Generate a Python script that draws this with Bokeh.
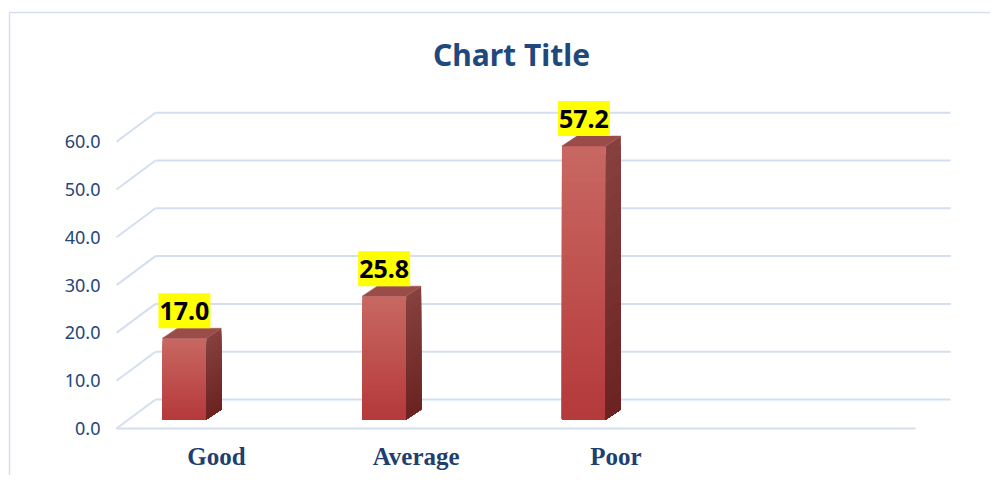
import numpy as np
from bokeh.plotting import figure
from bokeh.models import Range1d, LinearAxis, FixedTicker, Label, PrintfTickFormatter
from bokeh.core.properties import value
from bokeh.embed import file_html
from bokeh.resources import INLINE

# ---------------- data ----------------
categories = ["Good", "Average", "Poor"]
scores = [17.0, 25.8, 57.2]
y_ticks = [0, 10, 20, 30, 40, 50, 60]
title_text = "Chart Title"

# ---------------- layout (picture pixels) ----------------
W, H = 990, 475
PAGE_X0, PAGE_Y0 = 0, 0
N_SLOTS = 4                 # plot area spans 4 category slots
FLOOR_LEFT_PX = 116         # front-left corner of the floor
SLOT_PX = 199.75            # pixel width of one category slot
ZERO_PX = 428               # front floor line (value 0)
UNIT_PX = 4.78              # pixels per value unit

def px_x(d):  # pixel distance -> x data units
    return d / SLOT_PX

def px_y(d):  # pixel distance -> y data units
    return d / UNIT_PX

x_start = (PAGE_X0 - FLOOR_LEFT_PX) / SLOT_PX
x_end = (PAGE_X0 + W - FLOOR_LEFT_PX) / SLOT_PX
y_start = (ZERO_PX - (PAGE_Y0 + H)) / UNIT_PX
y_end = (ZERO_PX - PAGE_Y0) / UNIT_PX

# 3D offsets
WALL_DX, WALL_DY = px_x(39), px_y(29)     # depth of walls
BAR_DX, BAR_DY = px_x(15), px_y(10)       # depth of bars
BAR_OFFSET, BAR_W = 0.23, 0.22            # bar front face within a slot
BAR_BASE = px_y(9)                        # bars stand mid-depth on the floor

GRID_COLOR = "#D3DFEF"
TEXT_BLUE = "#22467A"

p = figure(width=W, height=H,
           x_range=Range1d(x_start, x_end), y_range=Range1d(y_start, y_end),
           output_backend="svg", toolbar_location=None, min_border=0,
           x_axis_location=None, y_axis_location=None)
p.outline_line_color = None
p.background_fill_color = "white"
p.border_fill_color = "white"
p.grid.visible = False

# ---------------- outer chart border ----------------
bx = (9 - FLOOR_LEFT_PX) / SLOT_PX
by = (ZERO_PX - 12) / UNIT_PX
p.multi_line(xs=[[bx, x_end + 1], [bx, bx]], ys=[[by, by], [by, y_start - 1]],
             line_color="#D5E0EE", line_width=1.5)

# ---------------- walls / gridlines ----------------
gxs, gys = [], []
for v in y_ticks:
    gxs.append([WALL_DX, N_SLOTS + WALL_DX * 0.9]); gys.append([v + WALL_DY, v + WALL_DY])
    gxs.append([0, WALL_DX]); gys.append([v, v + WALL_DY])
gxs.append([0, N_SLOTS]); gys.append([0, 0])
p.multi_line(xs=gxs, ys=gys, line_color=GRID_COLOR, line_width=2)

# ---------------- bars (3D, gradient by overlapping strips) ----------------
def hex2rgb(h):
    h = h.lstrip("#")
    return np.array([int(h[i:i + 2], 16) for i in (0, 2, 4)], dtype=float)

def mix(c0, c1, t):
    c = hex2rgb(c0) * (1 - t) + hex2rgb(c1) * t
    return "#%02x%02x%02x" % tuple(int(round(x)) for x in c)

FRONT_TOP, FRONT_BOT = "#C86862", "#B5393A"
SIDE_TOP, SIDE_BOT = "#87413E", "#6B2321"
TOP_FACE = "#9A4C49"
NSTRIP = 30

fl, fr, fb, ft, fc = [], [], [], [], []
sxs, sys_, sc = [], [], []
txs, tys = [], []
for i, val in enumerate(scores):
    xl = i + BAR_OFFSET
    xr = xl + BAR_W
    y0 = BAR_BASE
    y1 = BAR_BASE + val
    edges = np.linspace(y1, y0, NSTRIP + 1)
    for j in range(NSTRIP):
        t = (j + 0.5) / NSTRIP
        top = edges[j]
        fl.append(xl); fr.append(xr); ft.append(top); fb.append(y0)
        fc.append(mix(FRONT_TOP, FRONT_BOT, t))
        sxs.append([xr, xr + BAR_DX, xr + BAR_DX, xr])
        sys_.append([y0, y0 + BAR_DY, top + BAR_DY, top])
        sc.append(mix(SIDE_TOP, SIDE_BOT, t))
    txs.append([xl, xr, xr + BAR_DX, xl + BAR_DX])
    tys.append([y1, y1, y1 + BAR_DY, y1 + BAR_DY])

p.quad(left=fl, right=fr, top=ft, bottom=fb, fill_color=fc, line_color=None)
p.patches(xs=sxs, ys=sys_, fill_color=sc, line_color=None)
p.patches(xs=txs, ys=tys, fill_color=TOP_FACE, line_color=TOP_FACE, line_width=0.5)

# ---------------- data labels ----------------
BOX_W, BOX_H = 52, 35
lx = [i + BAR_OFFSET + BAR_W / 2 for i in range(len(scores))]
ly = [BAR_BASE + v + BAR_DY + px_y(BOX_H / 2) for v in scores]
p.rect(x=lx, y=ly, width=BOX_W, height=BOX_H, width_units="screen", height_units="screen",
       fill_color="#FFFF00", line_color=None)
p.text(x=lx, y=ly, text=["%.1f" % v for v in scores], text_align="center", text_baseline="middle",
       text_font=value("Noto Sans"), text_font_style="bold", text_font_size="25px", text_color="black")

# ---------------- axes ----------------
yaxis = LinearAxis(fixed_location=px_x(-10), ticker=FixedTicker(ticks=y_ticks),
                   formatter=PrintfTickFormatter(format="%.1f"))
yaxis.axis_line_color = None
yaxis.major_tick_line_color = None
yaxis.minor_tick_line_color = None
yaxis.major_tick_out = 0
yaxis.major_tick_in = 0
yaxis.major_label_standoff = 6
yaxis.major_label_text_font = "Noto Sans"
yaxis.major_label_text_font_size = "18px"
yaxis.major_label_text_color = TEXT_BLUE
p.add_layout(yaxis, "left")

xticks = [i + 0.5 for i in range(len(categories))]
xaxis = LinearAxis(fixed_location=0, ticker=FixedTicker(ticks=xticks),
                   major_label_overrides={t: c for t, c in zip(xticks, categories)})
xaxis.axis_line_color = None
xaxis.major_tick_line_color = None
xaxis.minor_tick_line_color = None
xaxis.major_tick_out = 0
xaxis.major_tick_in = 0
xaxis.major_label_standoff = 14
xaxis.major_label_text_font = "Liberation Serif"
xaxis.major_label_text_font_style = "bold"
xaxis.major_label_text_font_size = "25px"
xaxis.major_label_text_color = "#1F3F70"
p.add_layout(xaxis, "below")

# ---------------- title ----------------
title = Label(x=511 - PAGE_X0, y=H - (54 - PAGE_Y0), x_units="screen", y_units="screen",
              text=title_text, text_align="center", text_baseline="middle",
              text_font="Noto Sans", text_font_style="bold", text_font_size="30px",
              text_color="#1F497D")
p.add_layout(title)

open("out.html", "w").write(file_html(p, INLINE))
